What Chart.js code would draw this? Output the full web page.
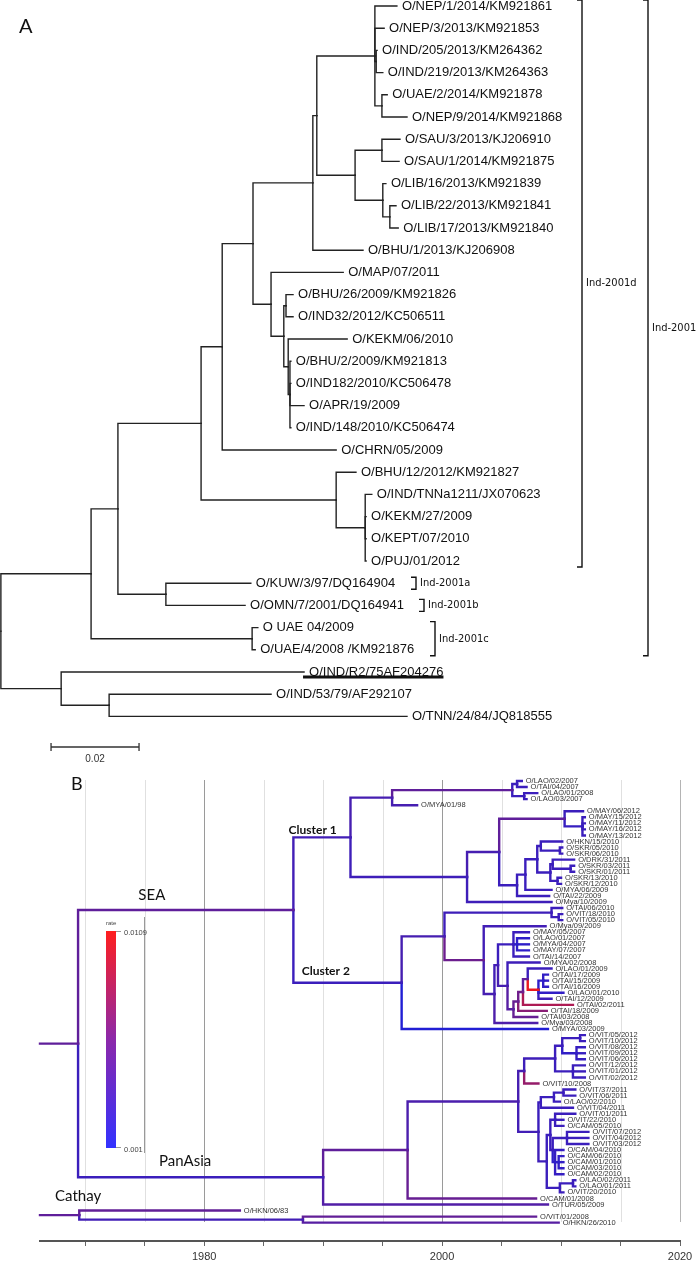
<!DOCTYPE html>
<html>
<head>
<meta charset="utf-8">
<script src="https://cdn.jsdelivr.net/npm/chart.js@4.4.0/dist/chart.umd.min.js"></script>
<style>
body { margin: 0; background: #fff; }
#wrap { position: relative; width: 697px; height: 1264px; }
canvas { position: absolute; left: 0; }
#treeA { top: 0; }
#treeB { top: 770px; }
</style>
</head>
<body>
<div id="wrap">
  <canvas id="treeA" width="697" height="770"></canvas>
  <canvas id="treeB" width="697" height="494"></canvas>
</div>
<script>
// ---------- panel A : ML tree, distances in substitutions/site ----------
var aTipNames = ['O/NEP/1/2014/KM921861','O/NEP/3/2013/KM921853','O/IND/205/2013/KM264362','O/IND/219/2013/KM264363',
  'O/UAE/2/2014/KM921878','O/NEP/9/2014/KM921868','O/SAU/3/2013/KJ206910','O/SAU/1/2014/KM921875',
  'O/LIB/16/2013/KM921839','O/LIB/22/2013/KM921841','O/LIB/17/2013/KM921840','O/BHU/1/2013/KJ206908',
  'O/MAP/07/2011','O/BHU/26/2009/KM921826','O/IND32/2012/KC506511','O/KEKM/06/2010','O/BHU/2/2009/KM921813',
  'O/IND182/2010/KC506478','O/APR/19/2009','O/IND/148/2010/KC506474','O/CHRN/05/2009','O/BHU/12/2012/KM921827',
  'O/IND/TNNa1211/JX070623','O/KEKM/27/2009','O/KEPT/07/2010','O/PUJ/01/2012','O/KUW/3/97/DQ164904',
  'O/OMN/7/2001/DQ164941','O UAE 04/2009','O/UAE/4/2008 /KM921876','O/IND/R2/75AF204276',
  'O/IND/53/79/AF292107','O/TNN/24/84/JQ818555'];
var aTipDist = [0.0902,0.0873,0.0857,0.0870,0.0880,0.0925,0.0909,0.0907,0.0877,0.0900,0.0905,0.0825,
  0.0780,0.0666,0.0666,0.0789,0.0661,0.0661,0.0691,0.0661,0.0764,0.0809,0.0845,0.0832,0.0832,0.0832,
  0.0570,0.0557,0.0586,0.0580,0.0691,0.0616,0.0925];
var aTipParent = ['N1','N1','N1b','N1b','N1c','N1c','N2a','N2a','N2b','N2c','N2c','b','Q','T','T','U',
  'U2','U2','U2','U2','L','M','N','N','N','N','K','K','C','C','O','O2','O2'];
var aNodeIds    = ['R','G','H','J','K','L','M','N','P','b','a','N1','N1b','N1c','N2','N2a','N2b','N2c','Q','S','T','U','U2','C','O','O2'];
var aNodeDist   = [0.0002,0.0207,0.0268,0.0457,0.0377,0.0505,0.0764,0.0830,0.0575,0.0711,0.0720,0.0852,0.0855,0.0868,
  0.0807,0.0868,0.0870,0.0886,0.0616,0.0645,0.0650,0.0655,0.0659,0.0573,0.0139,0.0248];
var aNodeParent = ['','R','G','H','H','J','J','M','L','P','b','a','N1','N1','a','N2','N2','N2b','P','Q','S','S','U','G','R','O'];
var aCladeNames = ['Ind-2001d','Ind-2001a','Ind-2001b','Ind-2001c','Ind-2001'];
var aCladeFirst = [0,26,27,28,0];
var aCladeLast  = [25,26,27,29,29];
var aScaleBar = 0.02;

// ---------- panel B : time tree, node heights in years, branch rates ----------
var bTipNames = ['O/LAO/02/2007','O/TAI/04/2007','O/LAO/01/2008','O/LAO/03/2007','O/MYA/01/98','O/MAY/06/2012',
  'O/MAY/15/2012','O/MAY/11/2012','O/MAY/16/2012','O/MAY/13/2012','O/HKN/15/2010','O/SKR/05/2010','O/SKR/06/2010',
  'O/DRK/31/2011','O/SKR/03/2011','O/SKR/01/2011','O/SKR/13/2010','O/SKR/12/2010','O/MYA/06/2009','O/TAI/22/2009',
  'O/Mya/10/2009','O/TAI/06/2010','O/VIT/18/2010','O/VIT/05/2010','O/Mya/09/2009','O/MAY/05/2007','O/LAO/01/2007',
  'O/MYA/04/2007','O/MAY/07/2007','O/TAI/14/2007','O/MYA/02/2008','O/LAO/01/2009','O/TAI/17/2009','O/TAI/15/2009',
  'O/TAI/16/2009','O/LAO/01/2010','O/TAI/12/2009','O/TAI/02/2011','O/TAI/18/2009','O/TAI/03/2008','O/Mya/03/2008',
  'O/MYA/03/2009','O/VIT/05/2012','O/VIT/10/2012','O/VIT/08/2012','O/VIT/09/2012','O/VIT/06/2012','O/VIT/12/2012',
  'O/VIT/01/2012','O/VIT/02/2012','O/VIT/10/2008','O/VIT/37/2011','O/VIT/06/2011','O/LAO/02/2010','O/VIT/04/2011',
  'O/VIT/01/2011','O/VIT/22/2010','O/CAM/05/2010','O/VIT/07/2012','O/VIT/04/2012','O/VIT/03/2012','O/CAM/04/2010',
  'O/CAM/06/2010','O/CAM/01/2010','O/CAM/03/2010','O/CAM/02/2010','O/LAO/02/2011','O/LAO/01/2011','O/VIT/20/2010',
  'O/CAM/01/2008','O/TUR/05/2009','O/HKN/06/83','O/VIT/01/2008','O/HKN/26/2010'];
var bTipYear = [2006.7,2007.1,2008.0,2007.1,1997.9,2011.85,2012.0,2012.0,2012.0,2012.0,
  2010.1,2010.1,2010.1,2011.1,2011.1,2011.1,2010.0,2010.0,2009.2,2009.0,
  2009.2,2010.1,2010.1,2010.1,2008.7,2007.3,2007.3,2007.3,2007.3,2007.3,
  2008.2,2009.2,2008.9,2008.9,2008.9,2010.2,2009.2,2011.0,2008.8,2008.0,
  2008.0,2008.9,2012.0,2012.0,2012.0,2012.0,2012.0,2012.0,2012.0,2012.0,
  2008.1,2011.2,2011.2,2009.9,2011.0,2011.2,2010.2,2010.2,2012.3,2012.3,
  2012.3,2010.2,2010.2,2010.2,2010.2,2010.2,2011.2,2011.2,2010.2,2007.9,
  2008.9,1983.0,2007.9,2009.8];
var bTipParent = ['C1a1a','C1a1a','C1a1b','C1a1b','C1a','MAYn','MAYs','MAYs','MAYs','MAYs',
  'H1','H1s','H1s','H2a','H2b','H2b','H2c','H2c','C1f','C1d',
  'C1b','C2b','C2bs','C2bs','C2c','G07','G07b','G07b','G07b','G07',
  'C2f','L4','TSTAR','TSTAR','TSTAR','R1','R1','L3','L2','L1',
  'C2d','C2','PA6a','PA6a','PA6b','PA6b','PA6b','PA7','PA7','PA7',
  'PA3','PA8b','PA8b','PA8a','PA8','PA11','PA11','PA11','PV12','PV12',
  'PV12','PCAM','PCAMb','PCAMb','PCAMb','PCAM','PL','PL','PA13','PA1',
  'PA','CAT','CA2','CA2'];
var bTipRate = [.0028,.0028,.0028,.0028,.0035,.0028,.0028,.0028,.0028,.0028,
  .0028,.0028,.0028,.0028,.0028,.0028,.0028,.0028,.0028,.0028,
  .003,.0028,.0028,.0028,.0032,.0028,.002,.002,.002,.0028,
  .003,.0028,.0022,.0022,.0022,.0022,.003,.0085,.007,.0055,
  .004,.0012,.0028,.0028,.0025,.0025,.0025,.0028,.0028,.0028,
  .0075,.0028,.0028,.0028,.0028,.0028,.0028,.0028,.0028,.0028,
  .0028,.0024,.0022,.0022,.0022,.0024,.0028,.0028,.0028,.0055,
  .0042,.0052,.0052,.0045];
var bNodeIds = ['ROOT','SEA','C1','C1a','C1a1','C1a1a','C1a1b','C1b','C1c','MAYn','MAYs','C1d','C1f','C1g','H1','H1s',
  'H2','H2a','H2b','H2c','C2','C2a','C2b','C2bs','C2c','C2d','C2e','G07','G07b','C2f','L1','L2','L3','L4','R1','TSTAR',
  'PA','PA1','PA2','PA3','PA5','PA6','PA6a','PA6b','PA7','PA4','PA8','PA8a','PA8b','PA9','PA10','PA11','PA12','PV12',
  'PCAM','PCAMb','PA13','PL','CAT','CA2'];
var bNodeYear = [1969.4,1987.5,1992.3,1995.8,2005.9,2006.3,2006.9,2002.1,2004.8,2010.3,2011.8,2006.3,2007.0,2008.0,2008.3,2009.9,
  2009.1,2009.3,2010.8,2009.7,1996.6,2000.2,2009.2,2009.8,2003.5,2004.4,2004.7,2006.0,2006.3,2005.5,2006.0,2006.4,2006.8,2007.2,2008.1,2008.5,
  1990.0,1997.1,2006.4,2006.9,2009.5,2010.1,2011.6,2011.3,2011.0,2008.1,2008.3,2009.4,2010.2,2008.8,2009.1,2009.5,2009.3,2010.5,
  2009.5,2009.8,2009.9,2011.0,1969.5,1988.3];
var bNodeParent = ['','ROOT','SEA','C1','C1a','C1a1','C1a1','C1','C1b','C1c','MAYn','C1c','C1d','C1f','C1g','H1',
  'C1g','H2','H2a','H2','SEA','C2','C2a','C2b','C2a','C2c','C2d','C2e','G07','C2e','C2f','L1','L2','L3','L4','R1',
  'ROOT','PA','PA1','PA2','PA3','PA5','PA6','PA6','PA5','PA2','PA4','PA8','PA8a','PA4','PA9','PA10','PA10','PA12',
  'PA12','PCAM','PA9','PA13','','CAT'];
var bNodeRate = [.005,.005,.0032,.0035,.005,.0028,.0028,.003,.0035,.005,.0025,.0028,.0028,.0028,.0028,.0028,
  .0028,.0028,.0028,.0028,.0028,.0035,.003,.0028,.0058,.0035,.0032,.0028,.0018,.0035,.0045,.0055,.006,.005,.0109,.002,
  .0028,.005,.0038,.0035,.003,.0028,.0028,.0022,.0028,.0032,.0028,.0028,.0028,.003,.0028,.0028,.0028,.0028,
  .002,.002,.0028,.0028,.005,.0032];
var bStemYear = 1966.2;
var bRateRange = [0.001, 0.0109];

// ---------- helpers ----------
function nodeRows(tipParent, nodeIds, nodeParent) {
  var kids = {};
  nodeIds.forEach(function (id) { kids[id] = []; });
  tipParent.forEach(function (p, i) { kids[p].push(i); });
  nodeParent.forEach(function (p, i) { if (p) kids[p].push(nodeIds[i]); });
  var rows = {};
  function rowOf(id) {
    if (rows[id] === undefined) {
      var ys = kids[id].map(function (k) { return typeof k === 'number' ? k : rowOf(k); });
      rows[id] = (Math.min.apply(null, ys) + Math.max.apply(null, ys)) / 2;
    }
    return rows[id];
  }
  nodeIds.forEach(rowOf);
  return rows;
}

function elbow(px, py, cx, cy) {
  return [{x: px, y: py}, {x: px, y: cy}, {x: cx, y: cy}];
}

function lerp(a, b, t) {
  return [0, 1, 2].map(function (k) { return Math.round(a[k] + (b[k] - a[k]) * t); });
}
function rateColor(r) {
  var t = Math.max(0, Math.min(1, (r - bRateRange[0]) / (bRateRange[1] - bRateRange[0])));
  var c = t < 0.5 ? lerp([30, 30, 215], [110, 30, 140], t * 2) : lerp([110, 30, 140], [235, 25, 30], (t - 0.5) * 2);
  return 'rgb(' + c.join(',') + ')';
}

function branchSet(data, color, width) {
  return {data: data, showLine: true, borderColor: color, borderWidth: width, pointRadius: 0,
    pointHoverRadius: 0, fill: false, clip: false, tension: 0, borderCapStyle: 'square', borderJoinStyle: 'miter'};
}

// ---------- panel A ----------
var aRows = nodeRows(aTipParent, aNodeIds, aNodeParent);
var aDist = {};
aNodeIds.forEach(function (id, i) { aDist[id] = aNodeDist[i]; });
var aSets = [];
aTipNames.forEach(function (n, i) {
  var p = aTipParent[i];
  aSets.push(branchSet(elbow(aDist[p], aRows[p], aTipDist[i], i), '#222', 1.4));
});
aNodeIds.forEach(function (id, i) {
  var p = aNodeParent[i];
  if (!p) return;
  aSets.push(branchSet(elbow(aDist[p], aRows[p], aNodeDist[i], aRows[id]), '#222', 1.4));
});

var bracketPx = [582, 416, 424, 435, 648];

var decorA = {
  id: 'decorA',
  afterDatasetsDraw: function (chart) {
    var ctx = chart.ctx, xs = chart.scales.x, ys = chart.scales.y;
    ctx.save();
    ctx.fillStyle = '#111';
    ctx.textBaseline = 'middle';
    ctx.font = '13px "Liberation Sans", Arial, sans-serif';
    aTipNames.forEach(function (n, i) {
      var x = xs.getPixelForValue(aTipDist[i]) + 5, y = ys.getPixelForValue(i);
      ctx.fillText(n, x, y);
      if (n === 'O/IND/R2/75AF204276') {
        ctx.fillRect(x - 6, y + 3.5, ctx.measureText(n).width + 6, 3);
      }
    });
    // clade brackets
    ctx.strokeStyle = '#111';
    ctx.lineWidth = 1.4;
    ctx.font = '11px "DejaVu Sans Condensed", "Liberation Sans Narrow", sans-serif';
    aCladeNames.forEach(function (n, k) {
      var x = bracketPx[k];
      var y0 = Math.max(0, ys.getPixelForValue(aCladeFirst[k]) - 6);
      var y1 = ys.getPixelForValue(aCladeLast[k]) + 6;
      ctx.beginPath();
      ctx.moveTo(x - 5, y0); ctx.lineTo(x, y0); ctx.lineTo(x, y1); ctx.lineTo(x - 5, y1);
      ctx.stroke();
      ctx.fillText(n, x + 4, (y0 + y1) / 2);
    });
    // scale bar
    var sx0 = xs.getPixelForValue(0.0116), sx1 = xs.getPixelForValue(0.0116 + aScaleBar), sy = 747;
    ctx.lineWidth = 1.3;
    ctx.strokeStyle = '#333';
    ctx.beginPath();
    ctx.moveTo(sx0, sy - 4); ctx.lineTo(sx0, sy + 4);
    ctx.moveTo(sx0, sy); ctx.lineTo(sx1, sy);
    ctx.moveTo(sx1, sy - 4); ctx.lineTo(sx1, sy + 4);
    ctx.stroke();
    ctx.font = '10px "Liberation Sans", Arial, sans-serif';
    ctx.fillStyle = '#333';
    ctx.textAlign = 'center';
    ctx.fillText(String(aScaleBar), (sx0 + sx1) / 2, sy + 12);
    ctx.textAlign = 'left';
    ctx.fillStyle = '#111';
    ctx.font = '20px Lato, "Open Sans", sans-serif';
    ctx.fillText('A', 19, 27);
    ctx.restore();
  }
};

new Chart(document.getElementById('treeA'), {
  type: 'scatter',
  data: {datasets: aSets},
  options: {
    responsive: false, animation: false, events: [], devicePixelRatio: 1,
    layout: {padding: 0},
    plugins: {legend: {display: false}, tooltip: {enabled: false}},
    scales: {
      x: {type: 'linear', display: false, min: 0, max: 697 / 4400},
      y: {type: 'linear', display: false, reverse: true, min: -6 / 22.2, max: -6 / 22.2 + 770 / 22.2}
    }
  },
  plugins: [decorA]
});

// ---------- panel B ----------
var bRows = nodeRows(bTipParent, bNodeIds, bNodeParent);
var bYear = {};
bNodeIds.forEach(function (id, i) { bYear[id] = bNodeYear[i]; });
var bSets = [];
bNodeIds.forEach(function (id, i) {
  var p = bNodeParent[i];
  var d = p ? elbow(bYear[p], bRows[p], bNodeYear[i], bRows[id])
            : [{x: bStemYear, y: bRows[id]}, {x: bNodeYear[i], y: bRows[id]}];
  bSets.push(branchSet(d, rateColor(bNodeRate[i]), 2.4));
});
bTipNames.forEach(function (n, i) {
  var p = bTipParent[i];
  bSets.push(branchSet(elbow(bYear[p], bRows[p], bTipYear[i], i), rateColor(bTipRate[i]), 2.4));
});

var bNotes = [
  {text: 'SEA', year: 1975.6, row: 18.8, font: '15px Lato, sans-serif', align: 'center'},
  {text: 'PanAsia', year: 1978.4, row: 62.9, font: '15px Lato, sans-serif', align: 'center'},
  {text: 'Cathay', year: 1969.4, row: 68.6, font: '15px Lato, sans-serif', align: 'center'},
  {text: 'Cluster 1', year: 1987.1, row: 8.1, font: 'bold 12px Lato, sans-serif', align: 'left'},
  {text: 'Cluster 2', year: 1988.2, row: 31.4, font: 'bold 12px Lato, sans-serif', align: 'left'}
];

var decorB = {
  id: 'decorB',
  beforeDatasetsDraw: function (chart) {
    var ctx = chart.ctx, xs = chart.scales.x, area = chart.chartArea;
    ctx.save();
    xs.ticks.forEach(function (t) {
      var x = Math.round(xs.getPixelForValue(t.value)) + 0.5;
      ctx.strokeStyle = (t.value === 1980 || t.value === 2000) ? '#9a9a9a' : (t.value === 2020 ? '#b4b4b4' : '#e0e0e0');
      ctx.lineWidth = 1;
      ctx.beginPath();
      ctx.moveTo(x, area.top + 10);
      ctx.lineTo(x, area.bottom - 19);
      ctx.stroke();
    });
    // rate legend
    var g = ctx.createLinearGradient(0, 161, 0, 378);
    g.addColorStop(0, 'rgb(255,30,30)');
    g.addColorStop(0.5, 'rgb(140,40,170)');
    g.addColorStop(1, 'rgb(50,50,255)');
    ctx.fillStyle = g;
    ctx.fillRect(106, 161, 10, 217);
    ctx.strokeStyle = '#999';
    ctx.beginPath();
    ctx.moveTo(144.5, 147); ctx.lineTo(144.5, 383);
    ctx.moveTo(116, 161.5); ctx.lineTo(121, 161.5);
    ctx.moveTo(116, 377.5); ctx.lineTo(121, 377.5);
    ctx.stroke();
    ctx.fillStyle = '#444';
    ctx.textBaseline = 'middle';
    ctx.font = '6px "Liberation Sans", Arial, sans-serif';
    ctx.fillText('rate', 106, 153);
    ctx.font = '7.5px "Liberation Sans", Arial, sans-serif';
    ctx.fillText(String(bRateRange[1]), 124, 163);
    ctx.fillText(String(bRateRange[0]), 124, 380);
    ctx.restore();
  },
  afterDatasetsDraw: function (chart) {
    var ctx = chart.ctx, xs = chart.scales.x, ys = chart.scales.y;
    ctx.save();
    ctx.textBaseline = 'middle';
    ctx.fillStyle = '#333';
    ctx.font = '7.5px "Liberation Sans", Arial, sans-serif';
    bTipNames.forEach(function (n, i) {
      ctx.fillText(n, xs.getPixelForValue(bTipYear[i]) + 4, ys.getPixelForValue(i));
    });
    ctx.fillStyle = '#111';
    bNotes.forEach(function (a) {
      ctx.font = a.font;
      ctx.textAlign = a.align;
      ctx.fillText(a.text, xs.getPixelForValue(a.year), ys.getPixelForValue(a.row));
    });
    ctx.textAlign = 'left';
    ctx.font = '18px Lato, "Open Sans", sans-serif';
    ctx.fillText('B', 71, 14);
    ctx.restore();
  }
};

new Chart(document.getElementById('treeB'), {
  type: 'scatter',
  data: {datasets: bSets},
  options: {
    responsive: false, animation: false, events: [], devicePixelRatio: 1,
    layout: {padding: {left: 40, right: 17, top: 0, bottom: 0}},
    plugins: {legend: {display: false}, tooltip: {enabled: false}},
    scales: {
      x: {
        type: 'linear', min: bStemYear, max: 2020,
        border: {display: true, color: '#555', width: 2},
        grid: {drawOnChartArea: false, drawTicks: true, tickLength: 5, color: '#666'},
        ticks: {
          stepSize: 5, includeBounds: false, autoSkip: false, maxRotation: 0, padding: 4,
          color: '#333', font: {family: '"Liberation Sans", Arial, sans-serif', size: 11},
          callback: function (v) { return v % 20 === 0 ? String(v) : ''; }
        },
        afterFit: function (s) { s.height = 23; }
      },
      y: {type: 'linear', display: false, reverse: true, min: -11 / 6.05, max: -11 / 6.05 + 471 / 6.05}
    }
  },
  plugins: [decorB]
});
</script>
</body>
</html>
